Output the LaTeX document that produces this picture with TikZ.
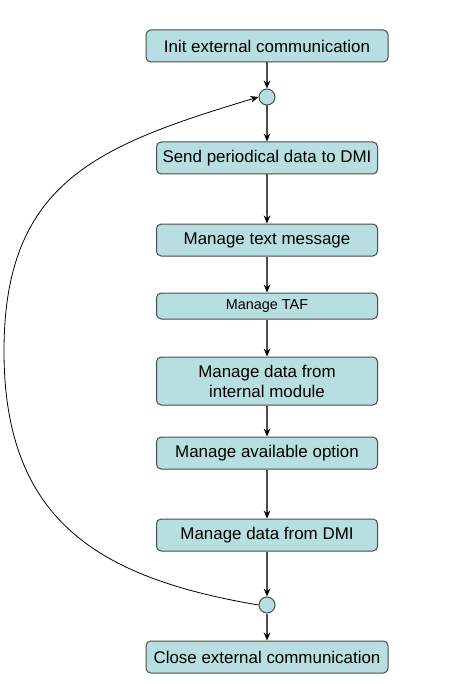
\documentclass[tikz,border=0pt]{standalone}
\usepackage{fontspec}
\setmainfont{Liberation Sans}
\usetikzlibrary{arrows.meta}
\definecolor{boxfill}{RGB}{183,222,225}
\definecolor{boxline}{RGB}{75,75,75}

\begin{document}
\begin{tikzpicture}[x=0.75pt,y=0.75pt,yscale=-1,xscale=1,
    stepbox/.style={draw=boxline, fill=boxfill, rounded corners=3.5pt, line width=0.75,
        minimum width=165.75pt, minimum height=24pt, inner sep=1pt, align=center,
        font=\fontsize{12.7}{15}\selectfont},
    widebox/.style={stepbox, minimum width=181.5pt},
    joint/.style={circle, draw=boxline, fill=boxfill, line width=0.75, minimum size=12pt, inner sep=0pt},
    flow/.style={draw=black!70, line width=0.9, -{Stealth[length=6pt,width=5pt,color=black]}},
    loopback/.style={draw=black, line width=0.6, -{Stealth[length=6pt,width=5pt]}}]
    \useasboundingbox (0,0) rectangle (471,684);

    %Shape: Rounded Rect
    \node [widebox] (init) at (267,46) {Init external communication};
    %Shape: Circle
    \node [joint] (loopin) at (267,97) {};
    %Shape: Rounded Rect
    \node [stepbox] (send) at (267,158) {Send periodical data to DMI};
    \node [stepbox] (text) at (267,240) {Manage text message};
    \node [stepbox, minimum height=19.5pt, font=\fontsize{10.8}{12}\selectfont] (taf) at (267,306) {Manage TAF};
    \node [stepbox, minimum height=36pt] (internal) at (267,381) {Manage data from\\internal module};
    \node [stepbox] (option) at (267,453) {Manage available option};
    \node [stepbox] (dmi) at (267,535) {Manage data from DMI};
    %Shape: Circle
    \node [joint] (loopout) at (267,605) {};
    %Shape: Rounded Rect
    \node [widebox] (close) at (267,657) {Close external communication};

    %Straight Lines
    \draw [flow] (init) -- (loopin);
    \draw [flow] (loopin) -- (send);
    \draw [flow] (send) -- (text);
    \draw [flow] (text) -- (taf);
    \draw [flow] (taf) -- (internal);
    \draw [flow] (internal) -- (option);
    \draw [flow] (option) -- (dmi);
    \draw [flow] (dmi) -- (loopout);
    \draw [flow] (loopout) -- (close);

    %Curve Lines
    \coordinate (far) at (4,351);
    \draw [loopback] (loopout.west) .. controls (99,578) and (4,521) .. (far)
        .. controls (4,181) and (99,145) .. (loopin.west);

\end{tikzpicture}
\end{document}
